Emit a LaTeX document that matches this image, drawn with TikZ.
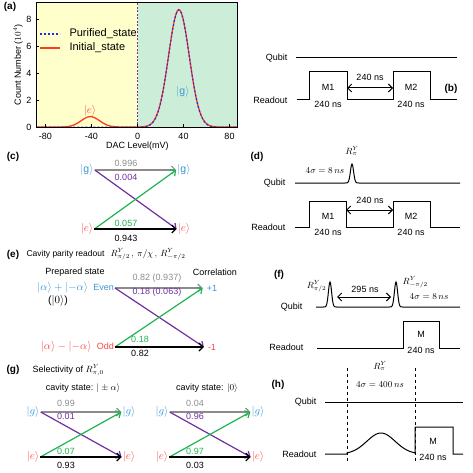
\documentclass[tikz,border=0pt]{standalone}
\usepackage{amsmath}
\usepackage{fontspec}
\setmainfont{Liberation Sans}
\usetikzlibrary{arrows.meta}

\definecolor{gblue}{RGB}{55,150,215}
\definecolor{ered}{RGB}{250,70,70}
\definecolor{pgray}{RGB}{140,140,140}
\definecolor{ppurple}{RGB}{112,48,160}
\definecolor{pgreen}{RGB}{30,180,80}
\definecolor{yellowbg}{RGB}{255,255,204}
\definecolor{greenbg}{RGB}{204,238,216}
\definecolor{curvered}{RGB}{255,60,30}
\definecolor{curveblue}{RGB}{40,40,220}

\begin{document}
\begin{tikzpicture}[x=1pt, y=-1pt, >={Straight Barb[length=4pt,width=8pt]},
		font={\fontsize{9}{10}\selectfont},
		panel/.style={font={\fontsize{10}{11}\selectfont\bfseries}},
		trans/.style={line width=1.2pt, ->},
		wave/.style={line width=1pt},
		state/.style={inner sep=1pt, font={\fontsize{10.5}{12}\selectfont}},
		tight/.style={inner sep=0.5pt},
		legend/.style={font={\fontsize{11}{12}\selectfont}, anchor=west}]
		\useasboundingbox (0,0) rectangle (473,473);

		% (a) histogram
		\node[panel] (pa) at (10,7) {(a)};
		\fill[yellowbg] (36.5,2) rectangle (137.5,127.7);
		\fill[greenbg] (137.5,2) rectangle (237.5,127.7);
		\begin{scope}[shift={(137.5,127.7)}, x=1.15pt, y=13.5pt]
			\draw[curvered, line width=1.3pt] plot[domain=-87:87, samples=140]
				(\x, {8.7*exp(((\x-36)^2)/(-162))+0.77*exp(((\x+41)^2)/(-128))+0.05});
			\draw[curveblue, line width=1.1pt, dash pattern=on 2pt off 2pt] plot[domain=-87:87, samples=140]
				(\x, {8.7*exp(((\x-36)^2)/(-162))+0.03});
			\draw[ppurple, line width=0.8pt, dash pattern=on 2pt off 1.5pt] (0,0) -- (0,9.3);
			\foreach \t in {-80,-40,0,40,80}
				\draw (\t,0) -- (\t,0.25);
			\foreach \t in {0,2,4,6,8}
				\draw (-88,\t) -- (-85.5,\t);
		\end{scope}
		\draw[line width=0.6pt] (36.5,2) rectangle (237.5,127.7);
		\foreach \t/\px in {-80/45.5,-40/91.5,0/137.5,40/183.5,80/229.5}
			\node (xt\px) at (\px,136) {\t};
		\foreach \t/\py in {0/127.7,2/100.7,4/73.7,6/46.7,8/19.7}
			\node[anchor=east] (yt\t) at (35,\py) {\t};
		\node (xlab) at (137.5,146) {DAC Level(mV)};
		\node[rotate=90] (ylab) at (18,65) {Count Number ($10^4$)};
		\draw[curveblue, line width=1.1pt, dash pattern=on 2pt off 2pt] (40,34) -- (60,34);
		\node[legend] (lgp) at (66,34) {Purified\_state};
		\draw[curvered, line width=1.3pt] (40,48) -- (60,48);
		\node[legend] (lgi) at (66,48) {Initial\_state};
		\node[state, text=ered] (ae) at (90,111) {$|e\rangle$};
		\node[state, text=gblue] (ag) at (183,92) {$|\mathrm{g}\rangle$};

		% (b) sequence
		\node[panel] (pb) at (451,89) {(b)};
		\node[anchor=east] (qb) at (291,58) {Qubit};
		\node[anchor=east] (rb) at (291,100) {Readout};
		\draw[wave] (296,58) -- (457,58);
		\draw[wave] (297,100) -- (309,100) -- (309,72) -- (347,72) -- (347,100)
			-- (393,100) -- (393,72) -- (430,72) -- (430,100) -- (457,100);
		\node (bm1) at (328,87) {M1};
		\node (bm2) at (411,87) {M2};
		\node (bt1) at (328,104) {240 ns};
		\node (bt2) at (411,104) {240 ns};
		\coordinate (bl) at (347,88);
		\coordinate (br) at (393,88);
		\draw[line width=1pt, <->] (bl) -- (br);
		\node (bgap) at (370,77) {240 ns};

		% (c) transition probabilities
		\node[panel] (pc) at (13,157) {(c)};
		\node[state, text=gblue] (cg1) at (87,170) {$|\mathrm{g}\rangle$};
		\node[state, text=ered] (ce1) at (87,229) {$|e\rangle$};
		\node[state, text=gblue] (cg2) at (184,170) {$|\mathrm{g}\rangle$};
		\node[state, text=ered] (ce2) at (184,229) {$|e\rangle$};
		\draw[trans, pgray] (cg1.east) -- (cg2.west);
		\draw[trans, ppurple] (cg1.east) -- (ce2.west);
		\draw[trans, pgreen] (ce1.east) -- (cg2.west);
		\draw[trans, black] (ce1.east) -- (ce2.west);
		\node[text=pgray] (c1) at (126,163) {0.996};
		\node[text=ppurple] (c2) at (126,177) {0.004};
		\node[text=pgreen] (c3) at (126,223) {0.057};
		\node (c4) at (126,238) {0.943};

		% (d) sequence with pi pulse
		\node[panel] (pd) at (257,157) {(d)};
		\node[anchor=east] (qd) at (289,183) {Qubit};
		\node[anchor=east] (rd) at (289,227) {Readout};
		\draw[wave] (295,183) -- (344,183) -- plot[domain=-8:8, samples=33]
			({352+\x}, {183-19*exp(-(\x*\x)/5)}) -- (460,183);
		\draw[wave] (295,227) -- (309,227) -- (309,201) -- (346,201) -- (346,227)
			-- (393,227) -- (393,201) -- (430,201) -- (430,227) -- (460,227);
		\node[tight] (dr) at (352,151) {$R^Y_\pi$};
		\node[tight, anchor=east] (dsig) at (345,171) {$4\sigma = 8\,ns$};
		\node (dm1) at (328,216) {M1};
		\node (dm2) at (411,216) {M2};
		\node (dt1) at (328,232) {240 ns};
		\node (dt2) at (411,232) {240 ns};
		\coordinate (dl) at (346,210);
		\coordinate (dr2) at (393,210);
		\draw[line width=1pt, <->] (dl) -- (dr2);
		\node (dgap) at (370,200) {240 ns};

		% (e) parity readout
		\node[panel] (pe) at (13,255) {(e)};
		\node[anchor=west, font={\fontsize{8.5}{10}\selectfont}] (etitle) at (23,254) {Cavity parity readout};
		\node[anchor=west] (eseq) at (107,254) {$R^Y_{\pi/2}\,,\,\pi/\chi\,,\,R^Y_{-\pi/2}$};
		\node (eprep) at (75,272) {Prepared state};
		\node (ecorr) at (215,272) {Correlation};
		\node[state, anchor=east, text=gblue] (even) at (115,288)
			{$|\alpha\rangle + |{-\alpha}\rangle$\enspace\fontsize{9}{10}\selectfont Even};
		\node[state] (evac) at (58,301) {($|0\rangle$)};
		\node[state, anchor=east, text=ered] (odd) at (115,347)
			{$|\alpha\rangle - |{-\alpha}\rangle$\enspace\fontsize{9}{10}\selectfont Odd};
		\node[text=gblue, inner sep=4pt] (plus) at (212,288) {+1};
		\node[text=ered, inner sep=4pt] (minus) at (212,347) {-1};
		\draw[trans, pgray] (even.east) -- (plus.west);
		\draw[trans, ppurple] (even.east) -- (minus.west);
		\draw[trans, pgreen] (odd.east) -- (plus.west);
		\draw[trans, black] (odd.east) -- (minus.west);
		\node[text=pgray] (e1) at (157,278) {0.82 (0.937)};
		\node[text=ppurple] (e2) at (157,292) {0.18 (0.063)};
		\node[text=pgreen] (e3) at (140,339) {0.18};
		\node (e4) at (140,353) {0.82};

		% (f) Ramsey sequence
		\node[panel] (pf) at (279,275) {(f)};
		\node[anchor=east] (qf) at (306,307) {Qubit};
		\node[anchor=east] (rf) at (307,347) {Readout};
		\draw[wave] (316,307) -- (322,307) -- plot[domain=-8:8, samples=33]
			({330+\x}, {307-25*exp(-(\x*\x)/5)}) -- (388,307) -- plot[domain=-8:8, samples=33]
			({396+\x}, {307-25*exp(-(\x*\x)/5)}) -- (460,307);
		\draw[wave] (317,348) -- (403,348) -- (403,321) -- (439,321) -- (439,348) -- (460,348);
		\node[tight, anchor=east] (fr1) at (327,286) {$R^Y_{\pi/2}$};
		\node[tight, anchor=west] (fr2) at (402,282) {$R^Y_{-\pi/2}$};
		\node[tight] (fsig) at (429,297) {$4\sigma = 8\,ns$};
		\coordinate (fl) at (337,297);
		\coordinate (fr) at (391,297);
		\draw[line width=1pt, <->] (fl) -- (fr);
		\node (fgap) at (365,289) {295 ns};
		\node (fm) at (421,334) {M};
		\node (ft) at (421,350) {240 ns};

		% (g) selectivity
		\node[panel] (pg) at (13,370) {(g)};
		\node[tight, anchor=west] (gtitle) at (32,370) {Selectivity of $R^Y_{\pi,0}$};
		\node (gcap1) at (83,388) {cavity state: $|\pm\alpha\rangle$};
		\node (gcap2) at (207,388) {cavity state: $|0\rangle$};
		\node[state, text=gblue] (gg1) at (33,412) {$|g\rangle$};
		\node[state, text=ered] (ge1) at (33,457) {$|e\rangle$};
		\node[state, text=gblue] (gg2) at (129,412) {$|g\rangle$};
		\node[state, text=ered] (ge2) at (129,457) {$|e\rangle$};
		\draw[trans, pgray] (gg1.east) -- (gg2.west);
		\draw[trans, ppurple] (gg1.east) -- (ge2.west);
		\draw[trans, pgreen] (ge1.east) -- (gg2.west);
		\draw[trans, black] (ge1.east) -- (ge2.west);
		\node[text=pgray] (g1) at (66,403) {0.99};
		\node[text=ppurple] (g2) at (66,416) {0.01};
		\node[text=pgreen] (g3) at (66,451) {0.07};
		\node (g4) at (66,465) {0.93};
		\node[state, text=gblue] (gg3) at (162,412) {$|g\rangle$};
		\node[state, text=ered] (ge3) at (162,457) {$|e\rangle$};
		\node[state, text=gblue] (gg4) at (258,412) {$|g\rangle$};
		\node[state, text=ered] (ge4) at (258,457) {$|e\rangle$};
		\draw[trans, pgray] (gg3.east) -- (gg4.west);
		\draw[trans, ppurple] (gg3.east) -- (ge4.west);
		\draw[trans, pgreen] (ge3.east) -- (gg4.west);
		\draw[trans, black] (ge3.east) -- (ge4.west);
		\node[text=pgray] (g5) at (195,403) {0.04};
		\node[text=ppurple] (g6) at (195,416) {0.96};
		\node[text=pgreen] (g7) at (195,451) {0.97};
		\node (g8) at (195,465) {0.03};

		% (h) long selective pulse
		\node[panel] (ph) at (278,385) {(h)};
		\node[anchor=east] (qh) at (320,402) {Qubit};
		\node[anchor=east] (rh) at (320,454) {Readout};
		\draw[wave] (325,402) -- (463,402);
		\draw[wave] (325,454) -- (347,454) -- plot[domain=347:415, samples=50]
			(\x, {454-21*exp(-((\x-381)*(\x-381))/400)}) -- (415,454) -- (415,427)
			-- (453,427) -- (453,454) -- (463,454);
		\draw[line width=0.8pt, dashed] (347,368) -- (347,462);
		\draw[line width=0.8pt, dashed] (415,368) -- (415,462);
		\node[tight] (hr) at (380,366) {$R^Y_\pi$};
		\node[tight] (hsig) at (380,385) {$4\sigma = 400\,ns$};
		\node (hm) at (433,441) {M};
		\node (ht) at (433,457) {240 ns};
	\end{tikzpicture}
\end{document}
